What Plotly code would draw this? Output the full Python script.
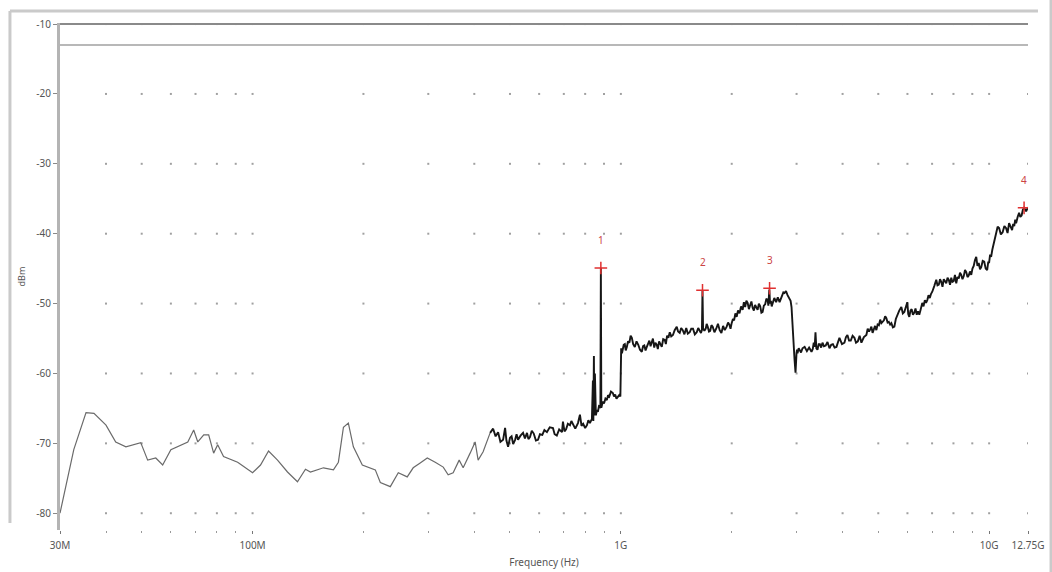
import plotly.graph_objects as go
import numpy as np

# trace readings, frequency in MHz, level in dBm
low_freq = [30.0, 32.7, 35.3, 37.1, 40.0, 42.5, 45.3, 49.7, 51.9, 54.6, 57.0, 60.0, 66.7, 69.2,
            71.0, 73.7, 76.0, 78.4, 80.4, 83.4, 91.1, 100.0, 105.1, 110.5, 116.9, 124.4, 132.4,
            139.2, 143.6, 155.8, 165.8, 171.0, 176.5, 182.0, 187.8, 198.6, 215.4, 222.3, 236.6,
            248.7, 263.0, 273.0, 285.2, 298.1, 313.3, 329.4, 339.7, 350.5, 363.9, 373.1, 389.7,
            402.1, 409.7, 422.7, 441.6]
low_level = [-80.0, -70.9, -65.6, -65.7, -67.4, -69.8, -70.5, -69.9, -72.4, -72.1, -73.1, -70.9,
             -69.8, -68.1, -69.8, -68.8, -68.8, -71.4, -70.2, -71.9, -72.7, -74.2, -73.1, -71.1,
             -72.4, -74.1, -75.5, -73.7, -74.1, -73.5, -73.8, -72.7, -67.7, -67.1, -70.5, -73.1,
             -73.8, -75.6, -76.2, -74.2, -74.8, -73.5, -72.8, -72.1, -72.7, -73.4, -74.5, -74.2,
             -72.4, -73.5, -71.4, -69.8, -72.4, -71.2, -68.5]

high_freq = [441.6, 449.9, 457, 464.2, 471, 478.9, 484.9, 489, 494.1, 500,
             505, 510, 516.2, 521, 525.8, 534, 542.6, 549, 556.1, 561,
             566.6, 573, 580, 588, 595.7, 603, 612, 620, 629.9, 641,
             654.1, 661, 670, 680, 692, 696.3, 703, 710, 718, 727.4,
             734, 741, 752, 764.8, 774.3, 782, 790, 800, 809.1, 816,
             824.1, 834.5, 839.7, 842, 844.9, 847, 850.2, 855.5, 861, 866.2,
             872, 877, 880, 882.5, 885, 888, 894, 900, 908, 916.4,
             923, 930, 940, 951.2, 958, 965, 973, 981.5, 990, 997,
             1002, 1007, 1012.6, 1018, 1025, 1031, 1038.2, 1046, 1055, 1063,
             1071.1, 1080, 1091.2, 1103, 1115, 1127, 1140, 1149, 1158, 1167,
             1176.1, 1185, 1195, 1204, 1213.4, 1222, 1232, 1241, 1251.9, 1260,
             1270, 1280, 1291.5, 1303, 1316, 1325, 1335, 1346, 1357.7, 1370,
             1385, 1400, 1418.3, 1430, 1445, 1458, 1472.5, 1488, 1505, 1520,
             1538.3, 1553, 1570, 1588, 1607, 1622, 1637.4, 1650, 1660, 1666,
             1672, 1686, 1700, 1710, 1721.1, 1735, 1748, 1762, 1775.7, 1795,
             1815, 1835, 1855, 1875, 1895, 1915, 1937.9, 1955, 1970, 1985,
             1999.3, 2015, 2030, 2046, 2062.7, 2080, 2100, 2120, 2141.3, 2158,
             2175, 2192, 2209.2, 2227, 2245, 2262, 2279.3, 2297, 2315, 2333,
             2351.6, 2370, 2390, 2408, 2426.2, 2445, 2465, 2484, 2503.1, 2515,
             2530, 2542, 2555, 2568, 2582.4, 2610, 2640, 2668, 2697.7, 2720,
             2740, 2762, 2782.6, 2808, 2835.1, 2852, 2870, 2890, 2906.8, 2925,
             2943.3, 2962, 2980.3, 2990, 2998.9, 3008, 3017.7, 3040, 3060, 3085,
             3113.5, 3155, 3200, 3245, 3293.4, 3320, 3340, 3360, 3376.5, 3395,
             3418.9, 3445, 3470, 3498, 3527.3, 3560, 3600, 3640, 3684.9, 3725,
             3765, 3805, 3849.4, 3885, 3922.2, 3985, 4046.6, 4085, 4123, 4165,
             4210, 4258, 4307.2, 4350, 4400, 4450, 4499.6, 4570, 4641.6, 4680,
             4720, 4755, 4788.9, 4825, 4860, 4900, 4940.9, 4980, 5020, 5060,
             5097.6, 5140, 5180, 5220, 5259.4, 5300, 5340, 5385, 5426.3, 5478,
             5528.8, 5580, 5633.3, 5700, 5775.5, 5830, 5884.6, 5940, 5994.8, 6030,
             6070.1, 6115, 6160, 6210, 6262.7, 6310, 6360, 6410, 6461.4, 6520,
             6583.6, 6635, 6690, 6740, 6792.5, 6845, 6900, 6955, 7008, 7095,
             7185.2, 7240, 7300, 7355, 7413.2, 7470, 7530, 7590, 7648.4, 7710,
             7770, 7830, 7891, 7950, 8010, 8075, 8141.4, 8205, 8270, 8335,
             8399.7, 8465, 8530, 8600, 8666.2, 8735, 8800, 8870, 8941.2, 9010,
             9080, 9150, 9224.9, 9295, 9370, 9445, 9517.6, 9605, 9697.4, 9785,
             9876.1, 9940, 10000, 10060, 10126, 10200, 10280, 10360, 10446, 10545,
             10644, 10760, 10880, 11000, 11119, 11220, 11329, 11435, 11543, 11620,
             11700, 11770, 11835, 11950, 12059, 12150, 12250, 12345, 12441, 12600,
             12750]
high_level = [-68.5, -67.9, -69.0, -68.4, -69.8, -69.5, -67.8, -69.6, -70.5, -69.2,
              -69.0, -70.1, -69.5, -68.7, -69.5, -68.9, -68.5, -69.3, -68.5, -69.4,
              -69.1, -68.2, -68.6, -69.6, -69.5, -68.7, -68.8, -68.1, -68.4, -67.7,
              -67.8, -68.7, -68.9, -68.0, -68.4, -66.9, -68.3, -68.0, -67.2, -67.4,
              -66.8, -67.2, -67.9, -67.1, -65.9, -67.5, -67.2, -67.8, -67.4, -66.7,
              -67.1, -66.5, -61.0, -66.8, -57.5, -66.0, -60.0, -66.0, -65.2, -65.5,
              -64.7, -64.8, -64.5, -44.9, -64.9, -64.6, -64.0, -64.3, -63.6, -63.8,
              -63.1, -63.3, -62.6, -62.8, -63.3, -63.0, -63.6, -63.4, -63.1, -63.3,
              -56.4, -57.1, -56.6, -55.9, -55.8, -56.7, -56.2, -55.4, -55.6, -54.6,
              -54.9, -55.8, -56.2, -55.4, -55.9, -56.6, -56.9, -56.1, -56.0, -56.7,
              -56.2, -55.6, -55.3, -56.1, -55.5, -55.0, -56.3, -55.6, -55.9, -56.5,
              -55.4, -55.9, -56.2, -55.1, -55.2, -55.8, -54.6, -54.9, -54.1, -54.7,
              -54.5, -53.8, -53.3, -54.0, -54.2, -53.5, -53.8, -54.4, -53.5, -54.3,
              -54.1, -53.6, -53.6, -54.4, -54.1, -53.5, -53.9, -54.2, -53.8, -48.1,
              -53.5, -53.9, -53.6, -52.9, -53.3, -54.0, -53.9, -53.1, -53.3, -54.1,
              -53.6, -52.9, -53.8, -54.2, -53.2, -53.8, -53.3, -52.7, -53.0, -53.6,
              -52.8, -52.2, -52.4, -51.4, -51.9, -51.0, -51.4, -50.4, -50.9, -49.8,
              -50.5, -49.6, -49.9, -50.8, -50.2, -49.7, -50.6, -51.0, -50.2, -50.7,
              -50.9, -50.0, -50.4, -51.3, -51.2, -50.3, -50.1, -49.3, -49.5, -50.3,
              -48.0, -50.0, -49.6, -50.4, -49.9, -49.2, -49.8, -49.1, -49.8, -49.3,
              -49.0, -48.4, -48.5, -48.2, -48.8, -49.1, -49.3, -49.6, -50.5, -53.8,
              -56.2, -58.0, -59.9, -57.3, -57.1, -56.6, -57.1, -56.4, -56.6, -57.0,
              -56.4, -56.2, -56.8, -56.3, -56.9, -56.5, -55.6, -56.2, -54.1, -56.4,
              -56.6, -55.8, -55.8, -56.3, -55.6, -56.1, -56.0, -55.5, -56.4, -55.9,
              -55.8, -56.3, -56.2, -55.6, -54.9, -55.8, -55.6, -54.8, -54.5, -55.3,
              -55.3, -54.6, -54.9, -55.6, -55.4, -54.6, -55.6, -54.8, -54.5, -53.6,
              -54.0, -53.7, -53.3, -54.2, -53.8, -53.2, -53.8, -53.0, -53.1, -52.3,
              -52.8, -52.5, -52.4, -51.8, -52.1, -52.7, -52.6, -53.0, -52.8, -53.4,
              -53.3, -52.2, -51.6, -51.0, -50.5, -51.4, -51.2, -50.6, -49.8, -51.5,
              -51.9, -51.0, -50.8, -51.6, -51.3, -50.7, -51.6, -51.1, -51.6, -50.8,
              -49.9, -50.4, -49.5, -49.9, -49.5, -48.8, -49.2, -48.6, -48.3, -47.5,
              -46.6, -47.4, -47.3, -46.5, -46.9, -47.6, -46.5, -46.8, -47.1, -46.3,
              -46.6, -47.3, -46.3, -46.9, -46.8, -45.9, -47.1, -46.2, -46.4, -45.6,
              -45.9, -46.5, -46.1, -45.2, -45.5, -46.2, -46.0, -45.4, -45.9, -45.0,
              -44.6, -43.8, -43.3, -44.6, -44.2, -45.1, -44.8, -43.9, -44.0, -45.0,
              -45.2, -44.1, -44.1, -43.0, -43.3, -42.3, -41.5, -40.6, -40.0, -39.0,
              -39.2, -40.1, -39.8, -38.9, -39.2, -39.9, -38.5, -39.0, -39.5, -38.6,
              -38.9, -38.0, -38.5, -37.6, -37.0, -37.6, -37.4, -36.6, -36.3, -36.8,
              -36.2]

# markers
marker_ids = ["1", "2", "3", "4"]
marker_freq = [882.5, 1666.0, 2534.0, 12441.0]
marker_level = [-44.9, -48.1, -47.8, -36.3]

# limit lines
limit_levels = [-10, -13]
span_mhz = [30.0, 12750.0]

# axes
tick_freq = [30.0, 100.0, 1000.0, 10000.0, 12750.0]
tick_text = ["30M", "100M", "1G", "10G", "12.75G"]
grid_freq = [40, 50, 60, 70, 80, 90, 100, 200, 300, 400, 500, 600, 700, 800, 900, 1000,
             2000, 3000, 4000, 5000, 6000, 7000, 8000, 9000, 10000, 12750]
grid_levels = [-10, -20, -30, -40, -50, -60, -70, -80]

hz = lambda v: [f * 1e6 for f in v]
font = "Noto Sans"

fig = go.Figure()

# dotted grid (dots only at the intersections)
gx = [f for f in grid_freq for _ in grid_levels]
gy = [l for _ in grid_freq for l in grid_levels]
fig.add_trace(go.Scatter(x=hz(gx), y=gy, mode="markers",
                         marker=dict(size=2, color="#a0a0a0", symbol="square"),
                         hoverinfo="skip", showlegend=False))

# limit lines
for lvl, col in zip(limit_levels, ["#8a8a8a", "#b8b8b8"]):
    fig.add_trace(go.Scatter(x=hz(span_mhz), y=[lvl, lvl], mode="lines",
                             line=dict(color=col, width=2), showlegend=False, hoverinfo="skip"))

fig.add_trace(go.Scatter(x=hz(low_freq), y=low_level, mode="lines",
                         line=dict(color="#6a6a6a", width=1.2), showlegend=False))
fig.add_trace(go.Scatter(x=hz(high_freq), y=high_level, mode="lines",
                         line=dict(color="#161616", width=1.9), showlegend=False))

fig.add_trace(go.Scatter(x=hz(marker_freq), y=marker_level, mode="markers",
                         marker=dict(symbol="cross-thin", size=9,
                                     line=dict(color="#e03030", width=1.5)),
                         showlegend=False))
for mid, f, lvl in zip(marker_ids, marker_freq, marker_level):
    fig.add_annotation(x=np.log10(f * 1e6), y=lvl, text=mid, showarrow=False, yshift=28,
                       font=dict(family=font, size=10, color="#cc4444"))

# outer frame
frame = dict(type="line", xref="paper", yref="paper", line=dict(color="#cacaca", width=3))
fig.add_shape(x0=-0.0517, x1=-0.0517, y0=1.0237, y1=0.0138, **frame)
fig.add_shape(x0=-0.0517, x1=1.0103, y0=1.0237, y1=1.0237, **frame)
fig.add_shape(x0=1.0238, x1=1.0238, y0=1.05, y1=-0.09, **frame)

fig.update_xaxes(type="log", range=[np.log10(30e6), np.log10(12.75e9)],
                 tickvals=hz(tick_freq), ticktext=tick_text,
                 ticks="outside", ticklen=3, tickcolor="#777", tickwidth=1,
                 ticklabelstandoff=3,
                 minor=dict(tickvals=hz(grid_freq), ticks="outside", ticklen=2,
                            tickcolor="#999", showgrid=False),
                 showgrid=False, zeroline=False, showline=False, automargin=False,
                 tickfont=dict(family=font, size=10, color="#555"),
                 title=dict(text="Frequency (Hz)", font=dict(family=font, size=10, color="#555"),
                            standoff=7))
fig.update_yaxes(range=[-82.4, -9.85], tickvals=grid_levels,
                 ticktext=[str(v) for v in grid_levels],
                 ticks="outside", ticklen=4, tickcolor="#888", automargin=False,
                 showgrid=False, zeroline=False, showline=True, linecolor="#b4b4b4", linewidth=3,
                 tickfont=dict(family=font, size=10, color="#555"),
                 title=dict(text="dBm", font=dict(family=font, size=9, color="#555"), standoff=10))

fig.update_layout(width=1052, height=572, paper_bgcolor="white", plot_bgcolor="white",
                  margin=dict(l=60, r=24, t=23, b=42), showlegend=False)

fig.write_html("out.html", config={"displayModeBar": False},
               post_script="document.body.style.margin='0px';")
